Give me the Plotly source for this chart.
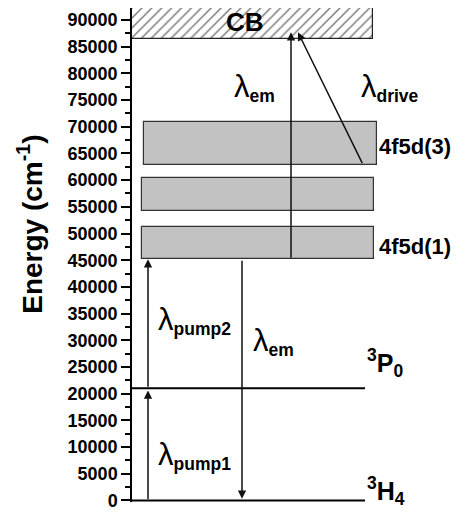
import plotly.graph_objects as go

# ---- data ----
band_names = ["4f5d(1)", "", "4f5d(3)"]
band_low = [45200, 54200, 62800]
band_high = [51200, 60400, 70900]
cb_low, cb_high = 86500, 92200
level_names = ["<sup>3</sup>H<sub>4</sub>", "<sup>3</sup>P<sub>0</sub>"]
level_energy = [0, 21000]

trans_from = [0, 21000, 45200, 45200, 62900]
trans_to = [20600, 45200, 300, 87700, 87700]
trans_subs = ["pump1", "pump2", "em", "em", "drive"]

ytick_vals = list(range(0, 90001, 5000))
ytick_text = [str(v) for v in ytick_vals]
y_title = "Energy (cm<sup>-1</sup>)"

# ---- layout positions (horizontal diagram units = page pixels) ----
band_x0 = [142, 142, 144]
band_x1 = [374, 374, 377]
cb_x0, cb_x1 = 132, 373
level_x0, level_x1 = 132, 365
trans_x_from = [148, 148, 242, 291, 363]
trans_x_to = [148, 148, 242, 291, 298]
label_x = [156, 156, 251, 232, 359]
label_y = [8400, 33700, 29800, 77300, 77300]

FONT = "Liberation Sans, Arial, sans-serif"

fig = go.Figure()

fig.add_trace(go.Bar(
    x=[(cb_x0 + cb_x1) / 2], y=[cb_high - cb_low], base=[cb_low],
    width=[cb_x1 - cb_x0],
    marker=dict(color="white", line=dict(color="#222", width=1.2),
                pattern=dict(shape="/", fgcolor="black", bgcolor="white",
                             size=7, solidity=0.22)),
    hoverinfo="skip", showlegend=False))

for lo, hi, x0, x1 in zip(band_low, band_high, band_x0, band_x1):
    fig.add_trace(go.Bar(
        x=[(x0 + x1) / 2], y=[hi - lo], base=[lo], width=[x1 - x0],
        marker=dict(color="#c2c2c2", line=dict(color="#333", width=1.2)),
        hoverinfo="skip", showlegend=False))

for e in level_energy:
    fig.add_trace(go.Scatter(x=[level_x0, level_x1], y=[e, e], mode="lines",
                             line=dict(color="black", width=2),
                             hoverinfo="skip", showlegend=False))

annotations = []
for xf, xt, ef, et in zip(trans_x_from, trans_x_to, trans_from, trans_to):
    annotations.append(dict(x=xt, y=et, ax=xf, ay=ef, xref="x", yref="y",
                            axref="x", ayref="y", text="", showarrow=True,
                            arrowhead=2, arrowsize=1.1, arrowwidth=1.5,
                            arrowcolor="#111"))
for lx, ly, s in zip(label_x, label_y, trans_subs):
    annotations.append(dict(
        x=lx, y=ly, xref="x", yref="y",
        text="<span style='font-size:31px'>λ</span><sub><b>" + s + "</b></sub>",
        showarrow=False, xanchor="left", yanchor="middle",
        font=dict(family=FONT, size=25, color="black")))
for name, lo, hi in zip(band_names, band_low, band_high):
    if name:
        annotations.append(dict(x=377, y=(lo + hi) / 2 - 600, xref="x", yref="y",
                                text=name, showarrow=False, xanchor="left",
                                yanchor="middle",
                                font=dict(family=FONT, size=22, color="black",
                                          weight="bold")))
level_label_y = [1800, 25800]
for name, ly in zip(level_names, level_label_y):
    annotations.append(dict(x=365, y=ly, xref="x", yref="y", text=name,
                            showarrow=False, xanchor="left", yanchor="middle",
                            font=dict(family=FONT, size=25, color="black",
                                      weight="bold")))
annotations.append(dict(x=245, y=89600, xref="x", yref="y", text="CB",
                        showarrow=False, xanchor="center", yanchor="middle",
                        font=dict(family=FONT, size=26, color="black",
                                  weight="bold")))
# y-axis title (as rotated annotation so it can sit where the reference has it)
annotations.append(dict(x=-0.304, y=0.563, xref="paper", yref="paper",
                        text=y_title, textangle=-90, showarrow=False,
                        xanchor="center", yanchor="middle",
                        font=dict(family=FONT, size=28, color="black",
                                  weight="bold")))

# page has an 8px body margin: figure is 460x506 placed at (8, 8)
fig.update_layout(
    width=460, height=506,
    margin=dict(l=124, r=0, t=0, b=12),
    paper_bgcolor="white", plot_bgcolor="white",
    barmode="overlay", bargap=0,
    annotations=annotations,
    xaxis=dict(range=[132, 468], visible=False, fixedrange=True),
    yaxis=dict(range=[-300, 92250], tickmode="array", tickvals=ytick_vals,
               ticktext=ytick_text,
               showline=True, linecolor="black", linewidth=1.5,
               ticks="outside", ticklen=9, tickwidth=1.5, tickcolor="black",
               minor=dict(dtick=2500, ticks="outside", ticklen=5,
                          tickwidth=1.5, tickcolor="black"),
               showgrid=False, zeroline=False, automargin=False,
               tickfont=dict(family=FONT, size=18, color="black",
                             weight="bold")),
)

fig.write_html("out.html")
